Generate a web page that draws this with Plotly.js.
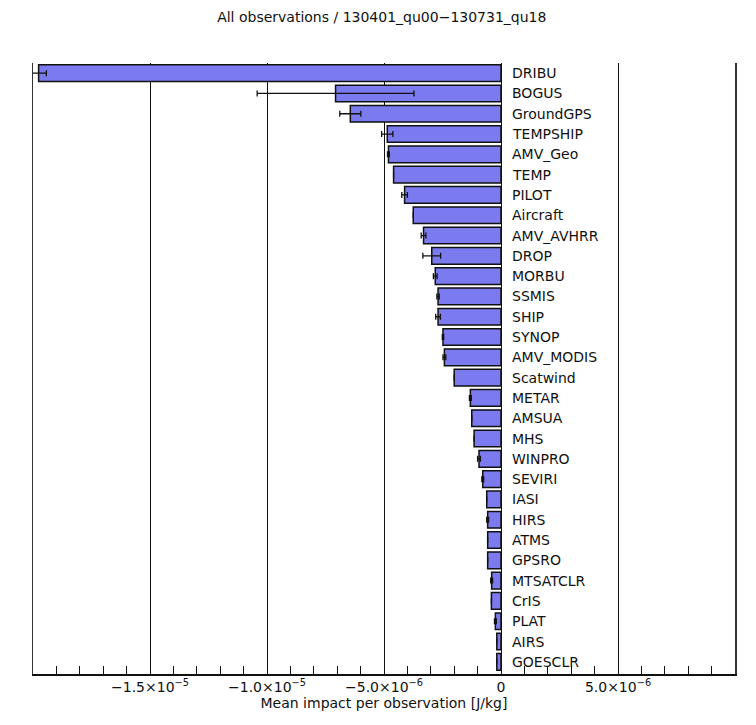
<!DOCTYPE html>
<html>
<head>
<meta charset="utf-8">
<script src="https://cdn.plot.ly/plotly-3.0.1.min.js"></script>
<style>html,body{margin:0;padding:0;background:#fff;}#chart{width:756px;height:725px;}</style>
</head>
<body>
<div id="chart"></div>
<script>
const categories = ["DRIBU","BOGUS","GroundGPS","TEMPSHIP","AMV_Geo","TEMP","PILOT","Aircraft","AMV_AVHRR","DROP","MORBU","SSMIS","SHIP","SYNOP","AMV_MODIS","Scatwind","METAR","AMSUA","MHS","WINPRO","SEVIRI","IASI","HIRS","ATMS","GPSRO","MTSATCLR","CrIS","PLAT","AIRS","GOESCLR"];
const meanImpact = [-19.76e-6,-7.07e-6,-6.44e-6,-4.86e-6,-4.81e-6,-4.59e-6,-4.12e-6,-3.75e-6,-3.31e-6,-2.96e-6,-2.81e-6,-2.69e-6,-2.69e-6,-2.48e-6,-2.42e-6,-2.00e-6,-1.31e-6,-1.25e-6,-1.15e-6,-0.94e-6,-0.78e-6,-0.61e-6,-0.57e-6,-0.57e-6,-0.57e-6,-0.40e-6,-0.41e-6,-0.24e-6,-0.18e-6,-0.18e-6];
const errorHalf = [0.33e-6,3.35e-6,0.45e-6,0.24e-6,0.04e-6,0,0.12e-6,0,0.10e-6,0.38e-6,0.08e-6,0.05e-6,0.10e-6,0.03e-6,0.06e-6,0,0.04e-6,0,0,0.06e-6,0.04e-6,0,0.04e-6,0,0,0.04e-6,0,0.04e-6,0,0];
const tickValues = [-2.0e-5,-1.5e-5,-1.0e-5,-5.0e-6,0,5.0e-6,1.0e-5];
const tickLabels = ["\u22122.0\u00d710<sup>\u22125</sup>","\u22121.5\u00d710<sup>\u22125</sup>","\u22121.0\u00d710<sup>\u22125</sup>","\u22125.0\u00d710<sup>\u22126</sup>","0","5.0\u00d710<sup>\u22126</sup>","1.0\u00d710<sup>\u22125</sup>"];

const font = "DejaVu Sans, Liberation Sans, sans-serif";

const trace = {
  type: "bar",
  orientation: "h",
  x: meanImpact,
  y: categories,
  width: 0.82,
  marker: {color: "rgb(123,123,239)", line: {color: "#111", width: 1.5}},
  error_x: {type: "data", array: errorHalf, visible: true, color: "#111", thickness: 1.3, width: 3},
  hoverinfo: "x+y"
};

const annotations = categories.map(c => ({
  x: 0, y: c, xref: "x", yref: "y", text: c, showarrow: false,
  xanchor: "left", yanchor: "middle", xshift: 9,
  font: {family: font, size: 14, color: "#111"}
}));

const layout = {
  width: 756, height: 725,
  margin: {l: 33, r: 21, t: 63, b: 51, pad: 0},
  paper_bgcolor: "#fff", plot_bgcolor: "#fff",
  showlegend: false,
  title: {text: "All observations / 130401_qu00\u2212130731_qu18", x: 0.505, xanchor: "center", y: 0.977, yanchor: "middle",
          font: {family: font, size: 14, color: "#111"}},
  xaxis: {
    range: [-2.0e-5, 1.0e-5],
    tickvals: tickValues, ticktext: tickLabels,
    showgrid: true, gridcolor: "#111", gridwidth: 1,
    zeroline: true, zerolinecolor: "#111", zerolinewidth: 1,
    showline: true, linecolor: "#111", linewidth: 1.5,
    ticks: "inside", ticklen: 8, tickcolor: "#111", tickwidth: 1,
    minor: {dtick: 1e-6, ticks: "inside", ticklen: 8, tickcolor: "#111", tickwidth: 1, showgrid: false},
    tickfont: {family: font, size: 14, color: "#111"},
    title: {text: "Mean impact per observation [J/kg]", standoff: 4, font: {family: font, size: 14, color: "#111"}},
    fixedrange: true
  },
  yaxis: {
    type: "category",
    range: [29.6, -0.5],
    showticklabels: false, ticks: "",
    showgrid: false, zeroline: false,
    showline: true, mirror: true, linecolor: "#333", linewidth: 1.5,
    fixedrange: true
  },
  annotations: annotations
};

Plotly.newPlot("chart", [trace], layout, {displayModeBar: false, staticPlot: true});
</script>
</body>
</html>
